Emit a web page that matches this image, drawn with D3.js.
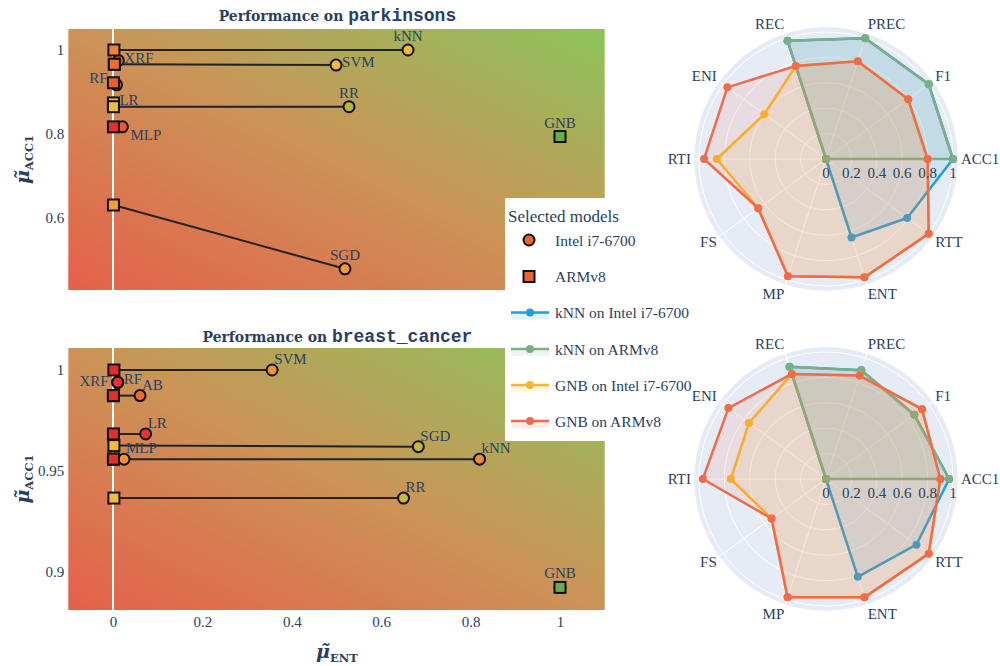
<!DOCTYPE html>
<html>
<head>
<meta charset="utf-8" />
<style>
  html, body {
    margin: 0;
    padding: 0;
    background: #fff;
  }
  svg text {
    font-family: "Liberation Serif", "Times New Roman", serif;
    fill: #2a3f5f;
  }
</style>
</head>
<body>
<div id="vis"></div>
<script src="https://d3js.org/d3.v7.min.js"></script>
<script>
(function() {
  // ** DATA **

  // parkinsons: entropy (x) and accuracy (y) per model and platform
  var parkModels   = ["kNN", "SVM", "XRF", "RF", "LR", "RR", "MLP", "GNB", "SGD"];
  var parkEntIntel = [0.66, 0.499, 0.012, 0.008, 0.001, 0.528, 0.021, 1.0, 0.519];
  var parkAccIntel = [1.0, 0.964, 0.975, 0.917, 0.874, 0.865, 0.817, 0.794, 0.479];
  var parkEntArm   = [0.002, 0.003, 0.003, 0.001, 0.001, 0.001, 0.001, 1.0, 0.001];
  var parkAccArm   = [1.0, 0.966, 0.966, 0.922, 0.874, 0.865, 0.817, 0.794, 0.631];
  var parkScoreIntel = [0.6, 0.6, 0.2, 0.2, 0.65, 0.82, 0.18, 1.0, 0.45];
  var parkScoreArm   = [0.35, 0.25, 0.25, 0.2, 0.65, 0.68, 0.03, 1.0, 0.47];

  // breast_cancer
  var bcModels   = ["SVM", "XRF", "RF", "AB", "LR", "SGD", "MLP", "kNN", "RR", "GNB"];
  var bcEntIntel = [0.356, 0.0105, 0.0105, 0.0604, 0.073, 0.683, 0.0246, 0.82, 0.65, 1.0];
  var bcAccIntel = [1.0, 0.9939, 0.9939, 0.9873, 0.9683, 0.962, 0.9558, 0.9558, 0.9365, 0.8922];
  var bcEntArm   = [0.002, 0.001, 0.001, 0.001, 0.001, 0.002, 0.001, 0.001, 0.002, 1.0];
  var bcAccArm   = [1.0, 0.9873, 0.9873, 0.9873, 0.9683, 0.9625, 0.9558, 0.9558, 0.9365, 0.8922];
  var bcScoreIntel = [0.42, 0.05, 0.05, 0.25, 0.06, 0.8, 0.42, 0.38, 0.78, 1.0];
  var bcScoreArm   = [0.02, 0.02, 0.02, 0.03, 0.03, 0.66, 0.03, 0.03, 0.66, 1.0];

  // axis ticks
  var xTicks = [0, 0.2, 0.4, 0.6, 0.8, 1];
  var xTickLabels = ["0", "0.2", "0.4", "0.6", "0.8", "1"];
  var parkYTicks = [0.6, 0.8, 1];
  var parkYTickLabels = ["0.6", "0.8", "1"];
  var bcYTicks = [0.9, 0.95, 1];
  var bcYTickLabels = ["0.9", "0.95", "1"];

  // radar metrics
  var radarAxes = ["ACC1", "F1", "PREC", "REC", "ENI", "RTI", "FS", "MP", "ENT", "RTT"];
  var radarTicks = [0, 0.2, 0.4, 0.6, 0.8, 1];
  var radarTickLabels = ["0", "0.2", "0.4", "0.6", "0.8", "1"];
  var radarNames = ["kNN on Intel i7-6700", "kNN on ARMv8", "GNB on Intel i7-6700", "GNB on ARMv8"];

  var parkKnnIntel = [1.0, 1.0, 1.0, 0.98, 0, 0, 0, 0, 0.65, 0.79];
  var parkKnnArm   = [1.0, 1.0, 1.0, 0.98, 0, 0, 0, 0, 0, 0];
  var parkGnbIntel = [0.80, 0.80, 0.81, 0.77, 0.60, 0.86, 0.66, 0.97, 0.98, 1.0];
  var parkGnbArm   = [0.80, 0.80, 0.81, 0.77, 0.96, 0.96, 0.66, 0.97, 0.98, 1.0];

  var bcKnnIntel = [0.97, 0.86, 0.90, 0.93, 0, 0, 0, 0, 0.81, 0.88];
  var bcKnnArm   = [0.97, 0.86, 0.90, 0.93, 0, 0, 0, 0, 0, 0];
  var bcGnbIntel = [0.90, 0.935, 0.856, 0.87, 0.75, 0.75, 0.53, 0.98, 0.98, 1.0];
  var bcGnbArm   = [0.90, 0.935, 0.856, 0.87, 0.95, 0.97, 0.53, 0.98, 0.98, 1.0];

  // ** STYLE **
  var radarColors = ["#1f9ee0", "#7cae86", "#fbb52a", "#ef6c4a"];
  var scoreColor = d3.scaleLinear()
    .domain([0, 0.2, 0.45, 0.6, 0.7, 0.82, 1])
    .range(["#e4262a", "#ee5f2e", "#f49a35", "#f6b93b", "#e8c03a", "#b9b639", "#6aab45"]);

  // text placement for point labels (plotly-like positions)
  var parkLabelPos = ["top center", "middle right", "middle right", "top left", "middle right",
                      "top center", "bottom right", "top center", "top center"];
  var bcLabelPos = ["top right", "middle left", "middle right", "top right", "top right",
                    "top right", "top right", "top right", "top right", "top center"];
  var labelOffsets = {
    "top center":   { anchor: "middle", dx: 0,  dy: -9 },
    "top right":    { anchor: "start",  dx: 2,  dy: -6 },
    "middle right": { anchor: "start",  dx: 6,  dy: 2 },
    "middle left":  { anchor: "end",    dx: -9, dy: 4 },
    "top left":     { anchor: "end",    dx: -9, dy: -2 },
    "bottom right": { anchor: "start",  dx: 8,  dy: 13 }
  };

  var W = 1000, H = 666;
  var svg = d3.select("#vis").append("svg").attr("width", W).attr("height", H);

  var defs = svg.append("defs");
  var grad = defs.append("linearGradient").attr("id", "bgGrad")
    .attr("x1", 0).attr("y1", 1).attr("x2", 1).attr("y2", 0);
  grad.append("stop").attr("offset", 0).attr("stop-color", "#e5604b");
  grad.append("stop").attr("offset", 0.5).attr("stop-color", "#cc9357");
  grad.append("stop").attr("offset", 1).attr("stop-color", "#8cc45b");

  // ** SCATTER **
  function drawScatter(cfg) {
    var g = svg.append("g");
    var x = d3.scaleLinear().domain([-0.1, 1.1]).range([cfg.left, cfg.right]);
    var y = d3.scaleLinear().domain(cfg.yDomain).range([cfg.bottom, cfg.top]);

    g.append("rect")
      .attr("x", cfg.left).attr("y", cfg.top)
      .attr("width", cfg.right - cfg.left).attr("height", cfg.bottom - cfg.top)
      .attr("fill", "url(#bgGrad)");

    // zero line
    g.append("line")
      .attr("x1", x(0)).attr("x2", x(0))
      .attr("y1", cfg.top).attr("y2", cfg.bottom)
      .attr("stroke", "#fff").attr("stroke-width", 2);

    var idx = d3.range(cfg.models.length);

    g.selectAll(".link").data(idx).enter().append("line")
      .attr("x1", function(i) { return x(cfg.entIntel[i]); })
      .attr("y1", function(i) { return y(cfg.accIntel[i]); })
      .attr("x2", function(i) { return x(cfg.entArm[i]); })
      .attr("y2", function(i) { return y(cfg.accArm[i]); })
      .attr("stroke", "#222").attr("stroke-width", 2);

    g.selectAll(".intel").data(idx).enter().append("circle")
      .attr("cx", function(i) { return x(cfg.entIntel[i]); })
      .attr("cy", function(i) { return y(cfg.accIntel[i]); })
      .attr("r", 5.5)
      .attr("fill", function(i) { return scoreColor(cfg.scoreIntel[i]); })
      .attr("stroke", "#111").attr("stroke-width", 2);

    g.selectAll(".arm").data(idx).enter().append("rect")
      .attr("x", function(i) { return x(cfg.entArm[i]) - 5.5; })
      .attr("y", function(i) { return y(cfg.accArm[i]) - 5.5; })
      .attr("width", 11).attr("height", 11)
      .attr("fill", function(i) { return scoreColor(cfg.scoreArm[i]); })
      .attr("stroke", "#111").attr("stroke-width", 2);

    g.selectAll(".lbl").data(idx).enter().append("text")
      .attr("x", function(i) { return x(cfg.entIntel[i]) + labelOffsets[cfg.labelPos[i]].dx; })
      .attr("y", function(i) { return y(cfg.accIntel[i]) + labelOffsets[cfg.labelPos[i]].dy; })
      .attr("text-anchor", function(i) { return labelOffsets[cfg.labelPos[i]].anchor; })
      .style("font-size", "15px")
      .text(function(i) { return cfg.models[i]; });

    // y axis
    var ya = g.append("g")
      .attr("transform", "translate(" + cfg.left + ",0)")
      .call(d3.axisLeft(y).tickValues(cfg.yTicks)
        .tickFormat(function(d, i) { return cfg.yTickLabels[i]; })
        .tickSize(0).tickPadding(4));
    ya.select(".domain").remove();
    ya.selectAll("text").style("font-size", "15px");

    if (cfg.showX) {
      var xa = g.append("g")
        .attr("transform", "translate(0," + cfg.bottom + ")")
        .call(d3.axisBottom(x).tickValues(xTicks)
          .tickFormat(function(d, i) { return xTickLabels[i]; })
          .tickSize(0).tickPadding(6));
      xa.select(".domain").remove();
      xa.selectAll("text").style("font-size", "15px");
    }

    // y axis title
    var yt = g.append("text")
      .attr("transform", "translate(29," + ((cfg.top + cfg.bottom) / 2) + ") rotate(-90)")
      .attr("text-anchor", "middle")
      .style("font-family", "DejaVu Serif").style("font-weight", "bold");
    yt.append("tspan").style("font-size", "19px").style("font-style", "italic").text("\u03bc\u0303");
    yt.append("tspan").attr("dy", 4).style("font-size", "11.5px").text("ACC1");

    // title
    var t = g.append("text")
      .attr("x", (cfg.left + cfg.right) / 2 + 1).attr("y", cfg.titleY)
      .attr("text-anchor", "middle").style("font-weight", "bold");
    t.append("tspan").style("font-family", "'DejaVu Serif', serif").style("font-stretch", "condensed")
      .style("font-size", "15.5px").text("Performance on ");
    t.append("tspan").style("font-family", "'Liberation Mono', monospace").style("font-size", "18px").text(cfg.dataset);
  }

  drawScatter({
    dataset: "parkinsons", models: parkModels,
    entIntel: parkEntIntel, accIntel: parkAccIntel, entArm: parkEntArm, accArm: parkAccArm,
    scoreIntel: parkScoreIntel, scoreArm: parkScoreArm, labelPos: parkLabelPos,
    yTicks: parkYTicks, yTickLabels: parkYTickLabels,
    yDomain: [0.4286, 1.05], left: 68.3, right: 604.7, top: 29, bottom: 290,
    titleY: 21, showX: false
  });

  drawScatter({
    dataset: "breast_cancer", models: bcModels,
    entIntel: bcEntIntel, accIntel: bcAccIntel, entArm: bcEntArm, accArm: bcAccArm,
    scoreIntel: bcScoreIntel, scoreArm: bcScoreArm, labelPos: bcLabelPos,
    yTicks: bcYTicks, yTickLabels: bcYTickLabels,
    yDomain: [0.881, 1.0109], left: 68.3, right: 604.7, top: 348, bottom: 610,
    titleY: 342, showX: true
  });

  // x axis title
  var xt = svg.append("text")
    .attr("x", 337).attr("y", 658)
    .attr("text-anchor", "middle")
    .style("font-family", "DejaVu Serif").style("font-weight", "bold");
  xt.append("tspan").style("font-size", "19px").style("font-style", "italic").text("\u03bc\u0303");
  xt.append("tspan").attr("dy", 4).style("font-size", "11.5px").text("ENT");

  // ** RADAR **
  function drawRadar(cx, cy, series) {
    var R = 127;
    var g = svg.append("g").attr("transform", "translate(" + cx + "," + cy + ")");
    var r = d3.scaleLinear().domain([0, 1]).range([0, R]);
    var step = 2 * Math.PI / radarAxes.length;

    g.append("circle").attr("r", R + 5.5)
      .attr("fill", "#e5ecf6").attr("stroke", "#fff").attr("stroke-width", 1.5);

    g.selectAll(".ring").data(radarTicks.slice(1)).enter().append("circle")
      .attr("r", function(d) { return r(d); })
      .attr("fill", "none").attr("stroke", "#fff").attr("stroke-width", 1);

    g.selectAll(".spoke").data(radarAxes).enter().append("line")
      .attr("x1", 0).attr("y1", 0)
      .attr("x2", function(d, i) { return (R + 5.5) * Math.cos(i * step); })
      .attr("y2", function(d, i) { return -(R + 5.5) * Math.sin(i * step); })
      .attr("stroke", "#fff").attr("stroke-width", 1);

    var line = d3.lineRadial()
      .angle(function(d, i) { return Math.PI / 2 - i * step; })
      .radius(function(d) { return r(d); })
      .curve(d3.curveLinearClosed);

    series.forEach(function(vals, k) {
      var col = radarColors[k];
      g.append("path").attr("d", line(vals))
        .attr("fill", col).attr("fill-opacity", 0.12)
        .attr("stroke", col).attr("stroke-width", 2.5).attr("stroke-linejoin", "round");
      g.selectAll(".dot" + k).data(vals).enter().append("circle")
        .attr("cx", function(d, i) { return r(d) * Math.cos(i * step); })
        .attr("cy", function(d, i) { return -r(d) * Math.sin(i * step); })
        .attr("r", 4).attr("fill", col);
    });

    // radial tick labels
    g.selectAll(".rtick").data(radarTicks).enter().append("text")
      .attr("x", function(d) { return r(d); })
      .attr("y", 19)
      .attr("text-anchor", "middle")
      .style("font-size", "15px")
      .text(function(d, i) { return radarTickLabels[i]; });

    // angular labels
    var R0 = R + 8;
    g.selectAll(".alabel").data(radarAxes).enter().append("text")
      .attr("x", function(d, i) { return R0 * Math.cos(i * step); })
      .attr("y", function(d, i) { return -R0 * Math.sin(i * step) - Math.sin(i * step) * 7 + 5; })
      .attr("text-anchor", function(d, i) {
        var c = Math.cos(i * step);
        return c > 0.1 ? "start" : (c < -0.1 ? "end" : "middle");
      })
      .style("font-size", "15px")
      .text(function(d) { return d; });
  }

  drawRadar(826, 159, [parkKnnIntel, parkKnnArm, parkGnbIntel, parkGnbArm]);
  drawRadar(826, 479, [bcKnnIntel, bcKnnArm, bcGnbIntel, bcGnbArm]);

  // ** LEGEND **
  var lg = svg.append("g");
  lg.append("rect").attr("x", 505).attr("y", 198).attr("width", 188).attr("height", 243).attr("fill", "#fff");
  lg.append("text").attr("x", 508).attr("y", 222).style("font-size", "17px").text("Selected models");

  var itemY = [240, 276.5, 312.5, 349, 385, 421];
  lg.append("circle").attr("cx", 529).attr("cy", itemY[0]).attr("r", 5.5)
    .attr("fill", scoreColor(0.22)).attr("stroke", "#111").attr("stroke-width", 2);
  lg.append("rect").attr("x", 523.5).attr("y", itemY[1] - 5.5).attr("width", 11).attr("height", 11)
    .attr("fill", scoreColor(0.22)).attr("stroke", "#111").attr("stroke-width", 2);
  lg.append("text").attr("x", 555).attr("y", itemY[0] + 5.5).style("font-size", "15.5px").text("Intel i7-6700");
  lg.append("text").attr("x", 555).attr("y", itemY[1] + 5.5).style("font-size", "15.5px").text("ARMv8");

  radarNames.forEach(function(name, k) {
    var yy = itemY[k + 2];
    lg.append("rect").attr("x", 511).attr("y", yy).attr("width", 38).attr("height", 7)
      .attr("fill", radarColors[k]).attr("fill-opacity", 0.12);
    lg.append("line").attr("x1", 511).attr("x2", 549).attr("y1", yy).attr("y2", yy)
      .attr("stroke", radarColors[k]).attr("stroke-width", 2.5);
    lg.append("circle").attr("cx", 530).attr("cy", yy).attr("r", 4).attr("fill", radarColors[k]);
    lg.append("text").attr("x", 555).attr("y", yy + 5.5).style("font-size", "15.5px").text(name);
  });
})();
</script>
</body>
</html>
